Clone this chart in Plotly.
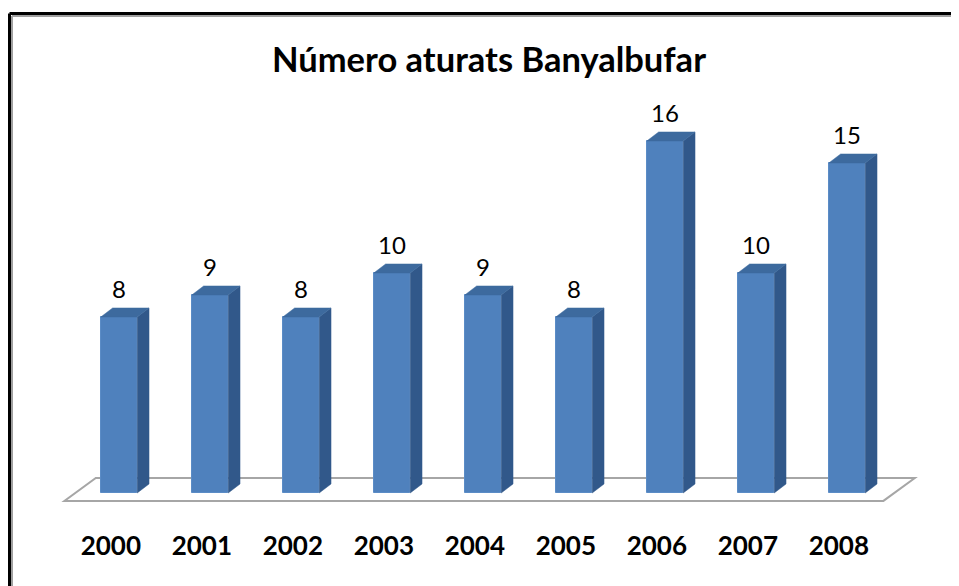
import plotly.graph_objects as go

# ---- data ----
years = ["2000", "2001", "2002", "2003", "2004", "2005", "2006", "2007", "2008"]
aturats = [8, 9, 8, 10, 9, 8, 16, 10, 15]
title_text = "Número aturats Banyalbufar"

# ---- style / geometry ----
PAGE_OFF = 8                      # default body margin of the html page
W, H = 959 - PAGE_OFF, 586 - PAGE_OFF
ML, MR, MT, MB = 32, 32, 72, 61
BAR_W = 0.40          # bar width in category units
DEPTH_X = 0.13        # 3D side offset (x units)
DEPTH_Y = 0.41        # 3D side offset (y units)
FRONT = "#4F81BD"
SIDE = "#31588A"
TOP = "#3D6A9E"
FONT = "Lato"

n = len(years)
xs = list(range(n))

fig = go.Figure()

# side / top faces
sx, sy = [], []
tx, ty = [], []
for i, v in zip(xs, aturats):
    r = i + BAR_W / 2
    l = i - BAR_W / 2
    sx += [r, r + DEPTH_X, r + DEPTH_X, r, r, None]
    sy += [0, DEPTH_Y, v + DEPTH_Y, v, 0, None]
    tx += [l, r, r + DEPTH_X, l + DEPTH_X, l, None]
    ty += [v, v, v + DEPTH_Y, v + DEPTH_Y, v, None]

# front faces
fig.add_trace(go.Bar(x=xs, y=aturats, width=BAR_W,
                     marker=dict(color=FRONT, line=dict(color="#5B8CC6", width=1)),
                     hoverinfo="skip", showlegend=False))
fig.add_trace(go.Scatter(x=sx, y=sy, mode="lines", fill="toself",
                         fillcolor=SIDE, line=dict(color=SIDE, width=0.5),
                         hoverinfo="skip", showlegend=False))
fig.add_trace(go.Scatter(x=tx, y=ty, mode="lines", fill="toself",
                         fillcolor=TOP, line=dict(color=TOP, width=0.5),
                         hoverinfo="skip", showlegend=False))

# floor (parallelogram below the bars), drawn beneath the traces
f_front, f_back = -0.36, 0.68
f_left, f_right = -0.60, (n - 1) + 0.40
f_shift = 0.345
floor_path = (f"M {f_left},{f_front} L {f_right},{f_front} "
              f"L {f_right + f_shift},{f_back} L {f_left + f_shift},{f_back} Z")
fig.add_shape(type="path", path=floor_path, xref="x", yref="y", layer="below",
              line=dict(color="#A6A6A6", width=2), fillcolor="white")

# value labels
for i, v in zip(xs, aturats):
    fig.add_annotation(x=i, y=v, text=str(v), showarrow=False,
                       yanchor="middle", yshift=29,
                       font=dict(family=FONT, size=24, color="#000000"))

plot_w = W - ML - MR
plot_h = H - MT - MB

def px_x(p):
    return (p - PAGE_OFF - ML) / plot_w

def px_y(p):
    return (H - MB - (p - PAGE_OFF)) / plot_h

# frame (only left and top edges are inside the picture)
for col, off, wdt in (("black", 9.5, 3), ("#A0A0A0", 12, 2)):
    fig.add_shape(type="line", xref="paper", yref="paper",
                  x0=px_x(off), y0=px_y(off + 4), x1=px_x(off), y1=px_y(700),
                  line=dict(color=col, width=wdt))
    fig.add_shape(type="line", xref="paper", yref="paper",
                  x0=px_x(off), y0=px_y(off + 4), x1=px_x(1100), y1=px_y(off + 4),
                  line=dict(color=col, width=wdt))

px_per_x = 91.0
px_per_y = 22.0
x0_px, y0_px = 119 - PAGE_OFF, 493 - PAGE_OFF

fig.update_layout(
    width=W, height=H,
    margin=dict(l=ML, r=MR, t=MT, b=MB),
    paper_bgcolor="white", plot_bgcolor="rgba(0,0,0,0)",
    title=dict(text="<b>" + title_text + "</b>", x=(489 - PAGE_OFF) / W,
               xanchor="center", y=1 - (60 - PAGE_OFF) / H, yanchor="middle",
               font=dict(family=FONT, size=34.5, color="#000000")),
    xaxis=dict(range=[(ML - x0_px) / px_per_x, (W - MR - x0_px) / px_per_x],
               tickmode="array", tickvals=[i - 0.09 for i in xs],
               ticktext=["<b>" + y + "</b>" for y in years],
               tickfont=dict(family=FONT, size=26, color="#000000"),
               showgrid=False, zeroline=False, showline=False, ticks="",
               ticklabelstandoff=3, fixedrange=True),
    yaxis=dict(range=[-(H - MB - y0_px) / px_per_y, (y0_px - MT) / px_per_y],
               visible=False, fixedrange=True),
    bargap=0,
)

fig.write_html("out.html")
